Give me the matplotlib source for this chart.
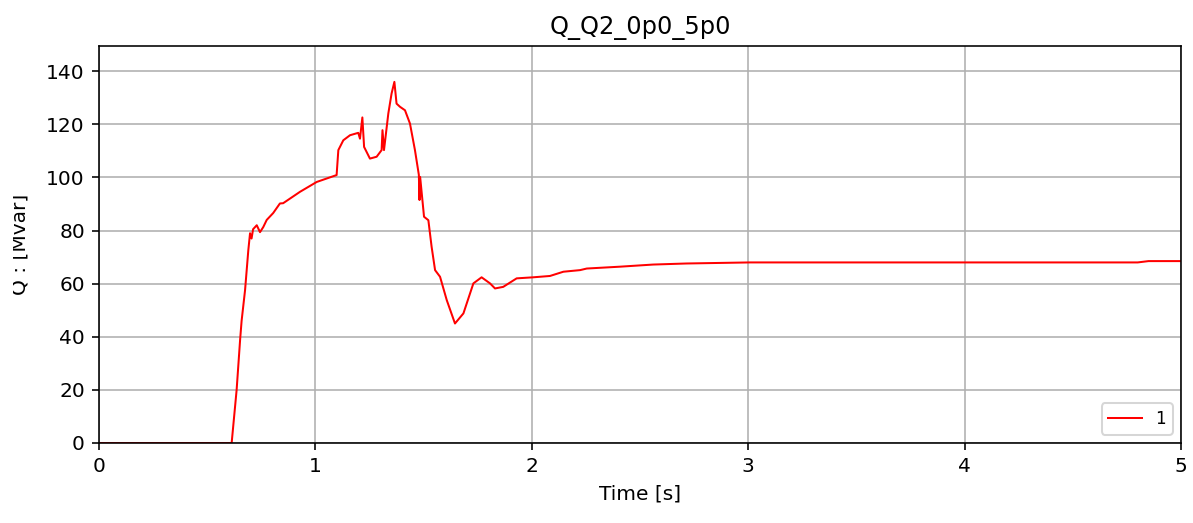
import matplotlib
matplotlib.use("Agg")
import matplotlib.pyplot as plt
from matplotlib.patches import Rectangle

# Data
time_s = [0.0, 0.613, 0.636, 0.652, 0.659, 0.675, 0.690, 0.698, 0.705, 0.712,
          0.729, 0.744, 0.759, 0.775, 0.805, 0.836, 0.851, 0.929, 1.006, 1.098,
          1.106, 1.129, 1.160, 1.198, 1.206, 1.217, 1.225, 1.252, 1.283, 1.306,
          1.310, 1.317, 1.337, 1.352, 1.365, 1.375, 1.391, 1.414, 1.437, 1.460,
          1.478, 1.481, 1.484, 1.502, 1.522, 1.537, 1.553, 1.576, 1.607, 1.645,
          1.684, 1.730, 1.768, 1.807, 1.830, 1.868, 1.930, 2.007, 2.084, 2.146,
          2.223, 2.254, 2.408, 2.561, 2.715, 3.008, 3.33, 3.8, 4.3, 4.8,
          4.85, 5.0]
q_mvar = [0.0, 0.0, 20.0, 38.8, 46.0, 57.6, 72.6, 79.0, 77.0, 80.5,
          82.0, 79.4, 81.3, 84.0, 86.6, 90.2, 90.3, 94.6, 98.3, 100.9,
          110.3, 114.0, 115.9, 116.8, 114.6, 122.6, 111.5, 107.1, 107.8, 110.3,
          117.8, 110.3, 124.1, 131.6, 136.0, 127.8, 126.6, 125.3, 120.3, 110.3,
          101.0, 91.5, 100.2, 85.2, 83.9, 73.9, 65.1, 62.6, 53.8, 45.0,
          48.8, 60.1, 62.4, 60.1, 58.2, 58.8, 62.0, 62.4, 62.9, 64.5,
          65.1, 65.7, 66.4, 67.2, 67.6, 68.0, 68.0, 68.0, 68.0, 68.0,
          68.5, 68.5]
series_label = "1"
x_ticks = [0, 1, 2, 3, 4, 5]
y_ticks = [0, 20, 40, 60, 80, 100, 120, 140]

DPI = 145
W, H = 1193, 523
fig = plt.figure(figsize=(W / DPI, H / DPI), dpi=DPI)
ax = fig.add_axes([99 / W, 80 / H, (1181 - 99) / W, (443 - 46) / H])

ax.plot(time_s, q_mvar, color="red", linewidth=1.0, label=series_label)
ax.set_xlim(0, 5)
ax.set_ylim(0, 149.5)
ax.set_xticks(x_ticks)
ax.set_yticks(y_ticks)
ax.grid(True)
ax.set_title("Q_Q2_0p0_5p0")
ax.set_xlabel("Time [s]")
ax.set_ylabel("Q : [Mvar]", labelpad=8.5)
ax.legend(loc="lower right", fontsize="small")

# the reference's y label is cut at its left edge
fig.add_artist(Rectangle((0, 0), 13 / W, 1, transform=fig.transFigure,
                         facecolor="white", edgecolor="none", zorder=10))

fig.savefig("out.png", dpi=DPI)
